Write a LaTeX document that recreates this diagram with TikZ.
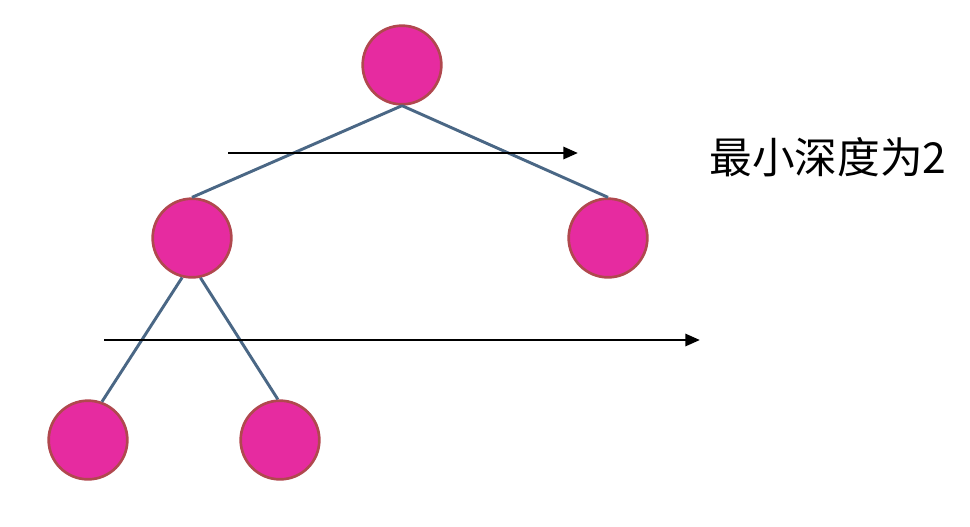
\documentclass[tikz,border=0pt]{standalone}
\usepackage{fontspec}
\newfontfamily\cjk{Noto Sans CJK SC}
\usepackage{tikz}
\usetikzlibrary{arrows.meta}

\definecolor{nodefill}{RGB}{230,43,160}
\definecolor{nodeedge}{RGB}{176,72,78}
\definecolor{treeline}{RGB}{74,103,133}

\begin{document}
\begin{tikzpicture}[
  x=0.75pt, y=-0.75pt,
  tnode/.style={circle, draw=nodeedge, line width=2pt, fill=nodefill, minimum size=59pt, inner sep=0pt},
  edge/.style={draw=treeline, line width=2.2pt},
  level/.style={-{Triangle[length=11pt, width=9pt]}, line width=2.2pt}
]
\useasboundingbox (0,0) rectangle (970,526);

% Nodes
\node (root) [tnode] at (402,65) {};
\node (left) [tnode] at (192,238) {};
\node (right) [tnode] at (608,238) {};
\node (leftleft) [tnode] at (88,440) {};
\node (leftright) [tnode] at (280,440) {};

% Edges
\draw [edge] (root.south) -- (left.north);
\draw [edge] (root.south) -- (right.north);
\draw [edge] (left.256) -- (leftleft.70);
\draw [edge] (left.282) -- (leftright.93);

% Depth arrows
\coordinate (top start) at (228,153);
\coordinate (top end) at (578,153);
\coordinate (low start) at (104,340);
\coordinate (low end) at (700,340);
\draw [level] (top start) -- (top end);
\draw [level] (low start) -- (low end);

\node (depth) at (828,157) {\cjk\fontsize{32}{32}\selectfont 最小深度为2};

\end{tikzpicture}
\end{document}
